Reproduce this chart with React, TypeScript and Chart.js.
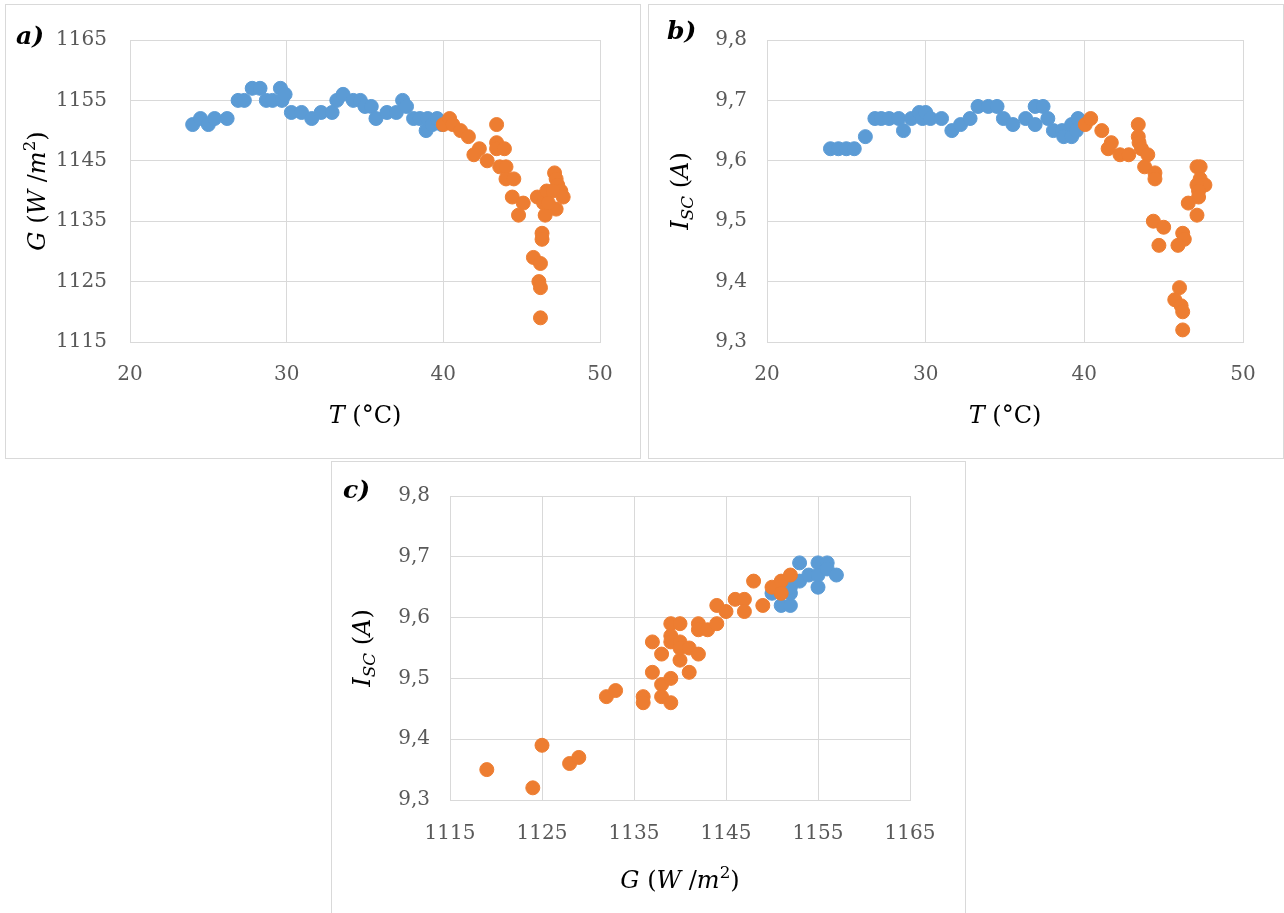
import React, { useEffect, useRef } from "react";
import { Chart, registerables } from "chart.js";

Chart.register(...registerables);

// ---------- tick values ----------
const tempTicks = [20, 30, 40, 50];
const irrTicks = [1115, 1125, 1135, 1145, 1155, 1165];
const iscTicks = [9.3, 9.4, 9.5, 9.6, 9.7, 9.8];

// ---------- panel a) G vs T ----------
const aBlueT = [24.0, 24.5, 25.0, 25.4, 26.2, 26.9, 27.3, 27.8, 28.3, 28.7, 29.1, 29.6, 29.7, 29.9, 30.3, 30.95, 31.6, 32.2, 32.9, 33.2, 33.6, 34.25, 34.7, 35.0, 35.4, 35.7, 36.4, 37.0, 37.4, 37.65, 38.1, 38.5, 38.9, 39.0, 39.3, 39.6, 39.9];
const aBlueG = [1151, 1152, 1151, 1152, 1152, 1155, 1155, 1157, 1157, 1155, 1155, 1157, 1155, 1156, 1153, 1153, 1152, 1153, 1153, 1155, 1156, 1155, 1155, 1154, 1154, 1152, 1153, 1153, 1155, 1154, 1152, 1152, 1150, 1152, 1151, 1152, 1151];
const aOrangeT = [40.0, 40.4, 40.6, 41.1, 41.6, 42.3, 41.95, 42.8, 43.4, 43.4, 43.4, 43.9, 43.6, 44.0, 44.0, 44.5, 44.4, 45.1, 44.8, 46.0, 46.4, 46.5, 46.6, 47.1, 47.2, 47.3, 47.5, 47.65, 47.2, 47.0, 46.7, 46.3, 46.3, 45.75, 46.2, 46.1, 46.2, 46.2];
const aOrangeG = [1151, 1152, 1151, 1150, 1149, 1147, 1146, 1145, 1151, 1148, 1147, 1147, 1144, 1144, 1142, 1142, 1139, 1138, 1136, 1139, 1138, 1136, 1140, 1143, 1142, 1141, 1140, 1139, 1137, 1140, 1138, 1133, 1132, 1129, 1128, 1125, 1124, 1119];

// ---------- panel b) Isc vs T ----------
const bBlueT = [24.0, 24.5, 25.0, 25.5, 26.2, 26.8, 27.2, 27.7, 28.3, 28.6, 29.1, 29.6, 29.8, 30.0, 30.3, 31.0, 31.65, 32.2, 32.8, 33.3, 33.95, 34.5, 34.9, 35.5, 36.3, 36.9, 36.9, 37.4, 37.7, 38.05, 38.6, 38.7, 39.2, 39.2, 39.5, 39.6];
const bBlueI = [9.62, 9.62, 9.62, 9.62, 9.64, 9.67, 9.67, 9.67, 9.67, 9.65, 9.67, 9.68, 9.67, 9.68, 9.67, 9.67, 9.65, 9.66, 9.67, 9.69, 9.69, 9.69, 9.67, 9.66, 9.67, 9.66, 9.69, 9.69, 9.67, 9.65, 9.65, 9.64, 9.64, 9.66, 9.65, 9.67];
const bOrangeT = [40.06, 40.4, 41.1, 41.7, 41.5, 42.25, 42.8, 43.4, 43.4, 43.45, 43.6, 44.0, 43.8, 44.45, 44.45, 44.35, 45.0, 44.7, 47.1, 47.3, 47.3, 47.6, 47.1, 47.2, 47.2, 46.55, 47.1, 46.2, 46.3, 45.9, 46.0, 45.7, 46.1, 46.2, 46.2];
const bOrangeI = [9.66, 9.67, 9.65, 9.63, 9.62, 9.61, 9.61, 9.66, 9.64, 9.63, 9.62, 9.61, 9.59, 9.58, 9.57, 9.50, 9.49, 9.46, 9.59, 9.59, 9.57, 9.56, 9.56, 9.55, 9.54, 9.53, 9.51, 9.48, 9.47, 9.46, 9.39, 9.37, 9.36, 9.35, 9.32];

// ---------- panel c) Isc vs G ----------
const cBlueG = [1150, 1151, 1152, 1152, 1152, 1153, 1153, 1154, 1155, 1156, 1155, 1155, 1156, 1157];
const cBlueI = [9.64, 9.62, 9.62, 9.64, 9.65, 9.69, 9.66, 9.67, 9.69, 9.69, 9.65, 9.67, 9.68, 9.67];
const cOrangeG = [1119, 1124, 1125, 1128, 1129, 1132, 1133, 1136, 1136, 1137, 1138, 1137, 1138, 1138, 1139, 1139, 1140, 1141, 1139, 1140, 1139, 1139, 1140, 1140, 1141, 1142, 1142, 1142, 1143, 1144, 1144, 1145, 1146, 1147, 1147, 1148, 1149, 1150, 1151, 1151, 1152];
const cOrangeI = [9.35, 9.32, 9.39, 9.36, 9.37, 9.47, 9.48, 9.47, 9.46, 9.56, 9.54, 9.51, 9.49, 9.47, 9.46, 9.50, 9.53, 9.51, 9.59, 9.59, 9.57, 9.56, 9.56, 9.55, 9.55, 9.59, 9.58, 9.54, 9.58, 9.59, 9.62, 9.61, 9.63, 9.63, 9.61, 9.66, 9.62, 9.65, 9.66, 9.64, 9.67];

const BLUE = "#5B9BD5";
const ORANGE = "#ED7D31";
const GRID = "#d9d9d9";
const TICK = "#595959";
const FAMILY = "'DejaVu Serif', serif";

type Seg = { t: string; i?: boolean; sup?: boolean; sub?: boolean };

const gTitle: Seg[] = [{ t: "G", i: true }, { t: " (" }, { t: "W", i: true }, { t: " /" }, { t: "m", i: true }, { t: "2", sup: true }, { t: ")" }];
const tTitle: Seg[] = [{ t: "T", i: true }, { t: " (°C)" }];
const iTitle: Seg[] = [{ t: "I", i: true }, { t: "SC", i: true, sub: true }, { t: " (" }, { t: "A", i: true }, { t: ")" }];

const pairs = (xs: number[], ys: number[]) => xs.map((x, k) => ({ x, y: ys[k] }));
const fmtInt = (v: number) => String(v);
const fmtDec = (v: number) => v.toFixed(1).replace(".", ",");

function drawRich(ctx: CanvasRenderingContext2D, segs: Seg[], cx: number, base: number, size: number) {
  const parts = segs.map((s) => {
    const fs = s.sup || s.sub ? size * 0.7 : size;
    const font = `${s.i ? "italic " : ""}${fs}px ${FAMILY}`;
    ctx.font = font;
    return { s, font, w: ctx.measureText(s.t).width, dy: s.sup ? -size * 0.42 : s.sub ? size * 0.22 : 0 };
  });
  const total = parts.reduce((a, p) => a + p.w, 0);
  let x = cx - total / 2;
  ctx.fillStyle = "#000";
  ctx.textAlign = "left";
  ctx.textBaseline = "alphabetic";
  for (const p of parts) {
    ctx.font = p.font;
    ctx.fillText(p.s.t, x, base + p.dy);
    x += p.w;
  }
}

type Spec = {
  label: string;
  box: { left: number; top: number; width: number; height: number };
  plot: { l: number; r: number; t: number; b: number };
  xMin: number; xMax: number; yMin: number; yMax: number;
  xTicks: number[]; yTicks: number[];
  xFmt: (v: number) => string; yFmt: (v: number) => string;
  blue: { x: number; y: number }[]; orange: { x: number; y: number }[];
  xTitle: Seg[]; yTitle: Seg[];
  xTitleBase: number; yTitleBase: number;
  labelPos: [number, number];
  xPad: number; yPad: number;
};

const specs: Spec[] = [
  {
    label: "a)",
    box: { left: 5, top: 4, width: 636, height: 455 },
    plot: { l: 124, r: 594, t: 35, b: 337 },
    xMin: 20, xMax: 50, yMin: 1115, yMax: 1165,
    xTicks: tempTicks, yTicks: irrTicks, xFmt: fmtInt, yFmt: fmtInt,
    blue: pairs(aBlueT, aBlueG), orange: pairs(aOrangeT, aOrangeG),
    xTitle: tTitle, yTitle: gTitle, xTitleBase: 418, yTitleBase: 39,
    labelPos: [10, 39], xPad: 21, yPad: 23,
  },
  {
    label: "b)",
    box: { left: 648, top: 4, width: 636, height: 455 },
    plot: { l: 118, r: 594, t: 35, b: 337 },
    xMin: 20, xMax: 50, yMin: 9.3, yMax: 9.8,
    xTicks: tempTicks, yTicks: iscTicks, xFmt: fmtInt, yFmt: fmtDec,
    blue: pairs(bBlueT, bBlueI), orange: pairs(bOrangeT, bOrangeI),
    xTitle: tTitle, yTitle: iTitle, xTitleBase: 418, yTitleBase: 39,
    labelPos: [18, 34], xPad: 21, yPad: 20,
  },
  {
    label: "c)",
    box: { left: 331, top: 461, width: 635, height: 460 },
    plot: { l: 118, r: 578, t: 34, b: 338 },
    xMin: 1115, xMax: 1165, yMin: 9.3, yMax: 9.8,
    xTicks: irrTicks, yTicks: iscTicks, xFmt: fmtInt, yFmt: fmtDec,
    blue: pairs(cBlueG, cBlueI), orange: pairs(cOrangeG, cOrangeI),
    xTitle: gTitle, yTitle: iTitle, xTitleBase: 426, yTitleBase: 38,
    labelPos: [11, 36], xPad: 22, yPad: 20,
  },
];

function Panel({ spec }: { spec: Spec }) {
  const ref = useRef<HTMLCanvasElement | null>(null);
  const W = spec.box.width - 2;
  const H = Math.min(spec.box.height - 2, 913 - spec.box.top - 1);

  useEffect(() => {
    if (!ref.current) return;
    const XH = 60;
    const plugin = {
      id: "richTitles" + spec.label,
      afterDraw(chart: any) {
        const { ctx, chartArea } = chart;
        ctx.save();
        drawRich(ctx, spec.xTitle, (chartArea.left + chartArea.right) / 2, spec.xTitleBase, 24);
        ctx.translate(spec.yTitleBase, (chartArea.top + chartArea.bottom) / 2);
        ctx.rotate(-Math.PI / 2);
        drawRich(ctx, spec.yTitle, 0, 0, 24);
        ctx.restore();
        ctx.save();
        ctx.font = `italic bold 25px ${FAMILY}`;
        ctx.fillStyle = "#000";
        ctx.textAlign = "left";
        ctx.textBaseline = "alphabetic";
        ctx.fillText(spec.label, spec.labelPos[0], spec.labelPos[1]);
        ctx.restore();
      },
    };
    const tickFont = { family: FAMILY, size: 20 };
    const chart = new Chart(ref.current, {
      type: "scatter",
      data: {
        datasets: [
          { label: "blue", data: spec.blue, backgroundColor: BLUE, borderColor: BLUE, pointRadius: 7, pointBorderWidth: 1, order: 2 },
          { label: "orange", data: spec.orange, backgroundColor: ORANGE, borderColor: ORANGE, pointRadius: 7, pointBorderWidth: 1, order: 1 },
        ],
      },
      options: {
        animation: false,
        responsive: false,
        events: [],
        layout: {
          padding: { left: 0, top: spec.plot.t, right: W - spec.plot.r, bottom: H - spec.plot.b - XH },
        },
        plugins: { legend: { display: false }, tooltip: { enabled: false } },
        scales: {
          x: {
            type: "linear",
            min: spec.xMin,
            max: spec.xMax,
            afterBuildTicks: (s: any) => { s.ticks = spec.xTicks.map((v) => ({ value: v })); },
            afterFit: (s: any) => { s.height = XH; },
            grid: { color: GRID, lineWidth: 1, drawTicks: false },
            border: { color: GRID, width: 1 },
            ticks: { padding: spec.xPad, color: TICK, font: tickFont, maxRotation: 0, autoSkip: false, callback: (v: any) => spec.xFmt(Number(v)) },
          },
          y: {
            type: "linear",
            min: spec.yMin,
            max: spec.yMax,
            afterBuildTicks: (s: any) => { s.ticks = spec.yTicks.map((v) => ({ value: v })); },
            afterFit: (s: any) => { s.width = spec.plot.l; },
            grid: { color: GRID, lineWidth: 1, drawTicks: false },
            border: { color: GRID, width: 1 },
            ticks: { padding: spec.yPad, color: TICK, font: tickFont, autoSkip: false, callback: (v: any) => spec.yFmt(Number(v)) },
          },
        },
      },
      plugins: [plugin],
    } as any);
    return () => chart.destroy();
  }, [spec]);

  return (
    <div
      style={{
        position: "absolute",
        left: spec.box.left,
        top: spec.box.top,
        width: spec.box.width,
        height: spec.box.height,
        border: "1px solid #d9d9d9",
        boxSizing: "border-box",
        background: "#fff",
      }}
    >
      <canvas ref={ref} width={W} height={H} style={{ display: "block", width: W, height: H }} />
    </div>
  );
}

export default function App() {
  return (
    <div style={{ position: "absolute", left: 0, top: 0, width: 1284, height: 913, overflow: "hidden", background: "#fff" }}>
      {specs.map((s) => (
        <Panel key={s.label} spec={s} />
      ))}
    </div>
  );
}
